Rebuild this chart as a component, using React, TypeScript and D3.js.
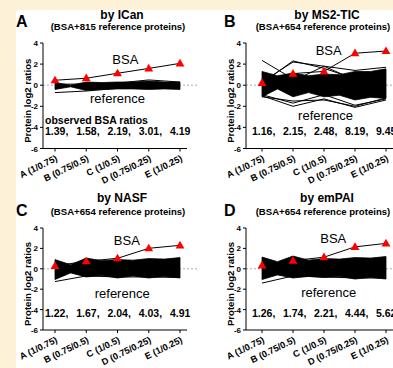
import * as d3 from 'd3';

// sample groups (x axis)
const categories = ['A (1/0.75)', 'B (0.75/0.5)', 'C (1/0.5)', 'D (0.75/0.25)', 'E (1/0.25)'];
const yTicks = [4, 2, 0, -2, -4, -6];

const panelLetters = ['A', 'B', 'C', 'D'];
const panelTitles = ['by ICan', 'by MS2-TIC', 'by NASF', 'by emPAI'];
const panelSubtitles = [
  '(BSA+815 reference proteins)',
  '(BSA+654 reference proteins)',
  '(BSA+654 reference proteins)',
  '(BSA+654 reference proteins)',
];

// observed BSA ratios printed under each panel
const observedRatios = [
  ['1.39', '1.58', '2.19', '3.01', '4.19'],
  ['1.16', '2.15', '2.48', '8.19', '9.45'],
  ['1.22', '1.67', '2.04', '4.03', '4.91'],
  ['1.26', '1.74', '2.21', '4.44', '5.62'],
];

// BSA log2 ratios (red triangles)
const bsaLog2 = [
  [0.47, 0.66, 1.13, 1.59, 2.07],
  [0.21, 1.1, 1.31, 3.03, 3.24],
  [0.29, 0.74, 1.03, 2.01, 2.3],
  [0.33, 0.8, 1.14, 2.15, 2.49],
];

// envelope of the dense reference-protein bundle (category index, upper, lower)
const bandPos = [0, 0.5, 1, 1.5, 2, 2.5, 3, 3.5, 4];
const bandHi = [
  [0.25, 0.0, 0.3, 0.25, 0.3, 0.3, 0.4, 0.3, 0.3],
  [1.3, 0.9, 1.15, 0.9, 1.05, 1.0, 1.3, 1.3, 1.55],
  [0.9, 0.4, 1.05, 0.8, 0.9, 0.85, 1.0, 0.95, 1.1],
  [1.15, 0.7, 1.25, 0.85, 1.0, 0.95, 1.1, 1.05, 1.2],
];
const bandLo = [
  [-0.4, -0.15, -0.5, -0.4, -0.35, -0.35, -0.4, -0.35, -0.4],
  [-1.1, -0.35, -1.1, -0.7, -1.1, -0.95, -1.4, -1.15, -1.25],
  [-1.05, -0.4, -0.8, -0.65, -0.9, -0.7, -0.9, -0.75, -0.9],
  [-1.05, -0.6, -0.9, -0.75, -0.85, -0.75, -1.0, -0.85, -1.0],
];

// individual reference proteins that stick out of the bundle
const outlierLines = [
  [
    [-0.7, -0.55, -0.3, -0.3, -0.3],
    [0.1, 0.1, 0.2, 0.5, 0.3],
  ],
  [
    [2.35, 0.6, 0.5, 0.4, 0.3],
    [0.2, 2.3, 1.6, 0.6, 0.6],
    [0.3, 2.2, 1.8, 1.4, 1.7],
    [0.8, 0.4, 1.8, 0.5, 0.6],
    [-1.0, -2.0, -1.3, -2.1, -1.4],
    [-0.9, -1.7, -0.9, -1.9, -1.3],
    [-1.1, -1.5, -1.4, -2.0, -1.2],
  ],
  [[-1.25, -0.7, -0.8, -0.8, -0.85]],
  [[-1.4, -0.7, -0.8, -0.9, -0.9]],
];

const font = '"Liberation Sans", Arial, Helvetica, sans-serif';

const cols = [
  { axisX: 43, x0: 55, x1: 180, axisEnd: 187, zeroEnd: 198, letterX: 16, cx: 118, ylabX: 31 },
  { axisX: 246, x0: 262, x1: 386, axisEnd: 396, zeroEnd: 396, letterX: 224, cx: 323, ylabX: 234 },
];
const rows = [
  { yTop: 43, yBot: 148.5, titleY: 19, subY: 30, letterY: 27 },
  { yTop: 228, yBot: 330, titleY: 202, subY: 215, letterY: 216 },
];
// label anchors in data units: [category pos, log2 value]
const bsaLabelAt = [[2.25, 2.0], [2.15, 2.87], [2.3, 2.35], [2.3, 2.55]];
const refLabelAt = [[2.0, -1.7], [2.05, -3.3], [2.15, -2.85], [2.15, -2.75]];

function Panel({ i }: { i: number }) {
  const c = cols[i % 2];
  const r = rows[Math.floor(i / 2)];
  const x = d3.scalePoint<string>().domain(categories).range([c.x0, c.x1]);
  const xl = d3.scaleLinear().domain([0, 4]).range([c.x0, c.x1]);
  const y = d3.scaleLinear().domain([-6, 4]).range([r.yBot, r.yTop]);

  const area = d3
    .area<number>()
    .x((_, k) => xl(bandPos[k]))
    .y0((_, k) => y(bandLo[i][k]))
    .y1((_, k) => y(bandHi[i][k]));
  const line = d3
    .line<number>()
    .x((_, k) => xl(k))
    .y((d) => y(d));
  const tri = d3.symbol(d3.symbolTriangle, 34)();

  return (
    <g fontFamily={font}>
      <text x={c.letterX} y={r.letterY} fontSize={16} fontWeight="bold">
        {panelLetters[i]}
      </text>
      <text x={c.cx + 4} y={r.titleY} fontSize={12} fontWeight="bold" textAnchor="middle">
        {panelTitles[i]}
      </text>
      <text x={c.cx} y={r.subY} fontSize={9.6} fontWeight="bold" textAnchor="middle">
        {panelSubtitles[i]}
      </text>

      {/* zero line */}
      <line x1={c.axisX} x2={c.zeroEnd} y1={y(0)} y2={y(0)} stroke="#aaa" strokeDasharray="2,2" />

      {/* reference bundle */}
      <path d={area(bandHi[i]) ?? ''} fill="#000" stroke="#000" strokeWidth={0.8} />
      {outlierLines[i].map((l, k) => (
        <path key={k} d={line(l) ?? ''} fill="none" stroke="#000" strokeWidth={1} />
      ))}

      {/* BSA */}
      <path d={line(bsaLog2[i]) ?? ''} fill="none" stroke="#000" strokeWidth={1} />
      {bsaLog2[i].map((v, k) => (
        <path key={k} d={tri ?? ''} transform={`translate(${x(categories[k])},${y(v) + 0.5})`} fill="#ff0000" />
      ))}

      <text x={xl(bsaLabelAt[i][0])} y={y(bsaLabelAt[i][1])} fontSize={13} textAnchor="middle">
        BSA
      </text>
      <text x={xl(refLabelAt[i][0])} y={y(refLabelAt[i][1])} fontSize={13} textAnchor="middle">
        reference
      </text>

      {i === 0 && (
        <text x={c.axisX + 2} y={y(-3.65)} fontSize={10.5} fontWeight="bold">
          observed BSA ratios
        </text>
      )}
      {observedRatios[i].map((s, k) => (
        <text key={k} x={(x(categories[k]) ?? 0) - 10} y={y(-4.75)} fontSize={10.5} fontWeight="bold">
          {k < 4 ? s + ',' : s}
        </text>
      ))}

      {/* y axis */}
      <line x1={c.axisX} x2={c.axisX} y1={r.yTop} y2={r.yBot} stroke="#000" />
      {yTicks.map((t) => (
        <g key={t}>
          <line x1={c.axisX - 3} x2={c.axisX} y1={y(t)} y2={y(t)} stroke="#000" />
          <text x={c.axisX - 5} y={y(t) + 3} fontSize={8} fontWeight="bold" textAnchor="end">
            {t}
          </text>
        </g>
      ))}
      <text
        transform={`translate(${c.ylabX},${(r.yTop + r.yBot) / 2 + 5}) rotate(-90)`}
        fontSize={9.6}
        fontWeight="bold"
        textAnchor="middle"
      >
        Protein log2 ratios
      </text>

      {/* x axis */}
      <line x1={c.axisX} x2={c.axisEnd} y1={r.yBot} y2={r.yBot} stroke="#000" />
      {categories.map((cat) => (
        <g key={cat}>
          <line x1={x(cat)} x2={x(cat)} y1={r.yBot} y2={r.yBot + 3} stroke="#000" />
          <text
            transform={`translate(${(x(cat) ?? 0) + 3},${r.yBot + 12}) rotate(-26)`}
            fontSize={9.2}
            fontWeight="bold"
            textAnchor="end"
          >
            {cat}
          </text>
        </g>
      ))}
    </g>
  );
}

export default function App() {
  return (
    <svg width={393} height={368} style={{ position: 'absolute', left: 0, top: 0 }}>
      <rect width={393} height={368} fill="#fdf2d7" />
      <rect x={16} y={10} width={377} height={358} fill="#fff" />
      {[0, 1, 2, 3].map((i) => (
        <Panel key={i} i={i} />
      ))}
    </svg>
  );
}
